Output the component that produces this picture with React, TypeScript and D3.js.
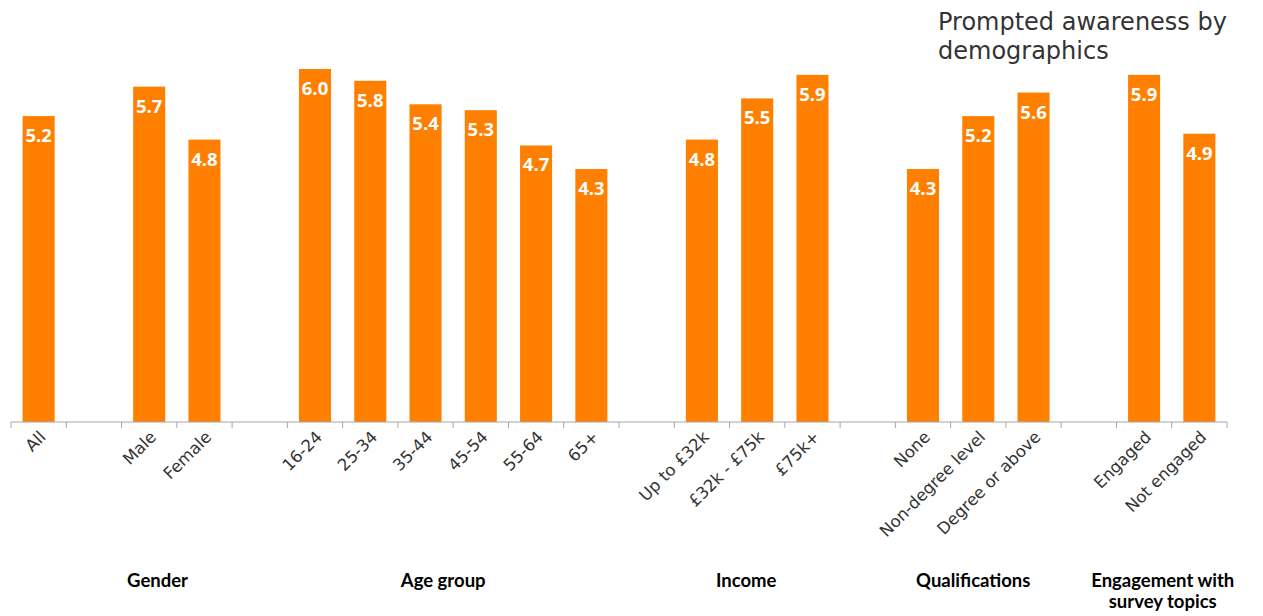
import React from "react";
import * as d3 from "d3";

const slots: string[] = [
  "All", "gap1", "Male", "Female", "gap2",
  "16-24", "25-34", "35-44", "45-54", "55-64", "65+", "gap3",
  "Up to £32k", "£32k - £75k", "£75k+", "gap4",
  "None", "Non-degree level", "Degree or above", "gap5",
  "Engaged", "Not engaged",
];
const categories: string[] = [
  "All", "Male", "Female", "16-24", "25-34", "35-44", "45-54", "55-64", "65+",
  "Up to £32k", "£32k - £75k", "£75k+", "None", "Non-degree level", "Degree or above",
  "Engaged", "Not engaged",
];
const values: number[] = [5.2, 5.7, 4.8, 6.0, 5.8, 5.4, 5.3, 4.7, 4.3, 4.8, 5.5, 5.9, 4.3, 5.2, 5.6, 5.9, 4.9];
const groupNames: string[][] = [["Gender"], ["Age group"], ["Income"], ["Qualifications"], ["Engagement with", "survey topics"]];
const groupMembers: string[][] = [
  ["All", "Male", "Female"],
  ["16-24", "25-34", "35-44", "45-54", "55-64", "65+"],
  ["Up to £32k", "£32k - £75k", "£75k+"],
  ["None", "Non-degree level", "Degree or above"],
  ["Engaged", "Not engaged"],
];
const title: string[] = ["Prompted awareness by", "demographics"];

const W = 1263, H = 616;
const x0 = 11, x1 = 1227, baseY = 422;

export default function App() {
  const x = d3.scaleBand<string>().domain(slots).range([x0, x1]).paddingInner(0.42).paddingOuter(0.21);
  const y = d3.scaleLinear().domain([0, 6]).range([baseY, 69]);
  const step = (x1 - x0) / slots.length;
  const boundaries = d3.range(slots.length + 1).map((i) => x0 + i * step);
  const cx = (c: string) => (x(c) ?? 0) + x.bandwidth() / 2;
  const groupDx = [36, -10, -11, -5, -9];
  const font = "'DejaVu Sans', Verdana, sans-serif";
  return (
    <svg width={W} height={H} style={{ position: "absolute", left: 0, top: 0, background: "#fff" }}>
      {title.map((t, i) => (
        <text key={i} x={938} y={30 + i * 29} fontFamily={font} fontSize={24} fill="#333">{t}</text>
      ))}
      {categories.map((c, i) => (
        <g key={c}>
          <rect x={x(c)} y={y(values[i])} width={x.bandwidth()} height={baseY - y(values[i])} fill="#FF8000" />
          <text x={cx(c)} y={y(values[i]) + 26} textAnchor="middle" fill="#fff" fontFamily="'Open Sans', sans-serif" fontWeight="bold" fontSize={18.5}>
            {values[i].toFixed(1)}
          </text>
        </g>
      ))}
      <line x1={x0} x2={x1} y1={baseY} y2={baseY} stroke="#a6a6a6" strokeWidth={1.2} />
      {boundaries.map((b, i) => (
        <line key={i} x1={b} x2={b} y1={baseY} y2={baseY + 6} stroke="#a6a6a6" strokeWidth={1} />
      ))}
      {categories.map((c) => (
        <text key={c} transform={`translate(${cx(c) + 4},${baseY + 12}) rotate(-45)`} textAnchor="end" dy="0.35em"
          fontFamily={font} fontSize={16.5} fill="#333">{c}</text>
      ))}
      {groupNames.map((g, gi) => {
        const m = groupMembers[gi];
        const center = (cx(m[0]) + cx(m[m.length - 1])) / 2 + groupDx[gi];
        return (
          <text key={gi} textAnchor="middle" fontFamily="Lato, sans-serif" fontWeight="bold" fontSize={18.5} fill="#000">
            {g.map((line, li) => (
              <tspan key={li} x={center} y={587 + li * 21}>{line}</tspan>
            ))}
          </text>
        );
      })}
    </svg>
  );
}
